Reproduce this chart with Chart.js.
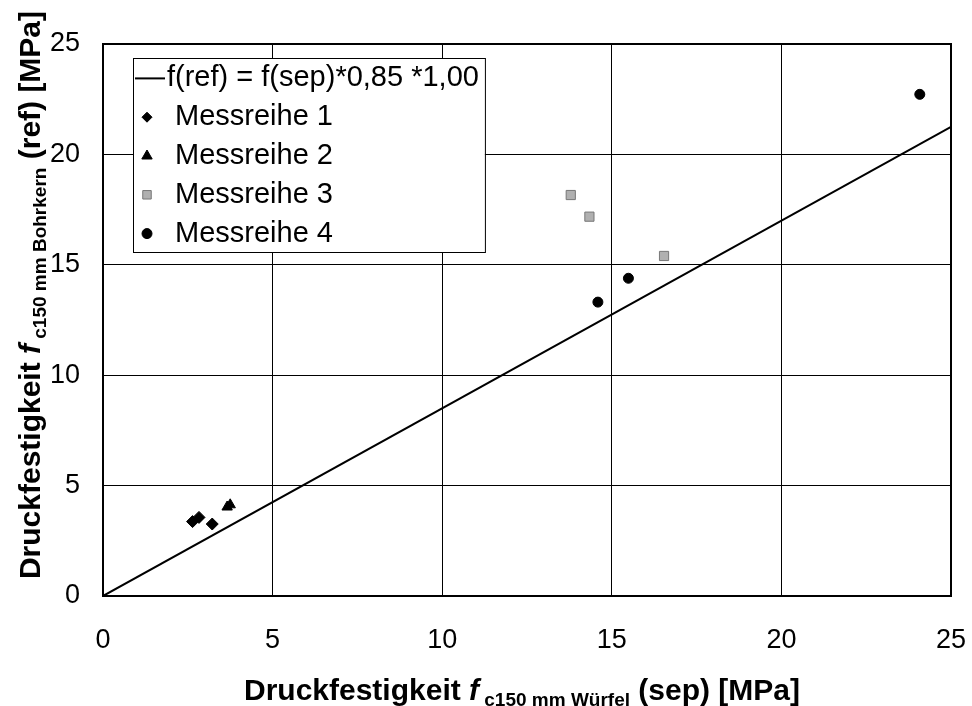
<!DOCTYPE html>
<html lang="de">
<head>
<meta charset="UTF-8">
<title>Druckfestigkeit Würfel / Bohrkern</title>
<script src="https://cdn.jsdelivr.net/npm/chart.js"></script>
<style>
    body { margin: 0; padding: 0; background: #fff; }
    #wrap { width: 972px; height: 706px; }
</style>
</head>
<body>
<div id="wrap"><canvas id="chart" width="972" height="706"></canvas></div>
<script>
    // Messwerte (sep = Würfel, ref = Bohrkern), MPa
    const reihe1X = [2.64, 2.83, 3.22];
    const reihe1Y = [3.37, 3.56, 3.26];
    const reihe2X = [3.66, 3.75];
    const reihe2Y = [4.03, 4.13];
    const reihe3X = [13.79, 14.34, 16.54];
    const reihe3Y = [18.16, 17.18, 15.40];
    const reihe4X = [14.59, 15.49, 24.08];
    const reihe4Y = [13.31, 14.39, 22.72];

    // Umrechnungsgerade f(ref) = f(sep) * 0,85 * 1,00
    const faktor1 = 0.85;
    const faktor2 = 1.00;
    const geradeX = [0, 25];

    const ticksX = [0, 5, 10, 15, 20, 25];
    const ticksY = [0, 5, 10, 15, 20, 25];

    const FONT = 'Arial, "Liberation Sans", sans-serif';

    function pts(xs, ys) {
        return xs.map((x, i) => ({ x: x, y: ys[i] }));
    }

    // Achsentitel mit tiefgestelltem Index
    function drawRich(ctx, parts, cx, cy) {
        let total = 0;
        parts.forEach(p => { ctx.font = p.font; p.w = ctx.measureText(p.t).width; total += p.w; });
        let x = cx - total / 2;
        ctx.textBaseline = 'alphabetic';
        ctx.textAlign = 'left';
        parts.forEach(p => {
            ctx.font = p.font;
            ctx.fillText(p.t, x, cy + (p.dy || 0));
            x += p.w;
        });
    }

    const titlePlugin = {
        id: 'titles',
        afterDraw(chart) {
            const ctx = chart.ctx;
            const a = chart.chartArea;
            ctx.save();
            ctx.fillStyle = '#000';
            drawRich(ctx, [
                { t: 'Druckfestigkeit ', font: 'bold 30px ' + FONT },
                { t: 'f', font: 'italic bold 30px ' + FONT },
                { t: ' c150 mm Würfel', font: 'bold 19px ' + FONT, dy: 6 },
                { t: ' (sep) [MPa]', font: 'bold 30px ' + FONT }
            ], (a.left + a.right) / 2 - 5, 700);
            ctx.translate(40, 295);
            ctx.rotate(-Math.PI / 2);
            drawRich(ctx, [
                { t: 'Druckfestigkeit ', font: 'bold 30px ' + FONT },
                { t: 'f', font: 'italic bold 30px ' + FONT },
                { t: ' c150 mm Bohrkern', font: 'bold 19px ' + FONT, dy: 6 },
                { t: ' (ref) [MPa]', font: 'bold 30px ' + FONT }
            ], 0, 0);
            ctx.restore();
        }
    };

    // Rahmen um die Zeichenfläche
    const framePlugin = {
        id: 'frame',
        beforeDatasetsDraw(chart) {
            const ctx = chart.ctx;
            const a = chart.chartArea;
            ctx.save();
            ctx.strokeStyle = '#000';
            ctx.lineWidth = 2;
            ctx.strokeRect(a.left, a.top, a.right - a.left, a.bottom - a.top);
            ctx.restore();
        }
    };

    // Legende als Kasten innerhalb der Zeichenfläche
    const legendPlugin = {
        id: 'boxLegend',
        afterDatasetsDraw(chart) {
            const ctx = chart.ctx;
            const a = chart.chartArea;
            const left = a.left + 30, top = a.top + 14, rowH = 38.8;
            const ds = chart.data.datasets;
            ctx.save();
            ctx.font = '29px ' + FONT;
            let maxW = 0;
            ds.forEach((d, i) => {
                const tx = i === 0 ? 34 : 42;
                maxW = Math.max(maxW, tx + ctx.measureText(d.label).width);
            });
            const boxW = maxW + 6, boxH = rowH * ds.length;
            ctx.fillStyle = '#fff';
            ctx.fillRect(left, top, boxW, boxH);
            ctx.strokeStyle = '#000';
            ctx.lineWidth = 1;
            ctx.strokeRect(left + 0.5, top + 0.5, boxW, boxH);
            ds.forEach((d, i) => {
                const cy = top + rowH * (i + 0.5) + 1;
                if (i === 0) {
                    ctx.strokeStyle = '#000';
                    ctx.lineWidth = 2;
                    ctx.beginPath();
                    ctx.moveTo(left + 2, cy);
                    ctx.lineTo(left + 32, cy);
                    ctx.stroke();
                } else {
                    ctx.fillStyle = d.backgroundColor;
                    ctx.strokeStyle = d.borderColor;
                    ctx.lineWidth = 1;
                    Chart.helpers.drawPoint(ctx, {
                        pointStyle: d.pointStyle,
                        radius: d.legendRadius,
                        borderWidth: 1
                    }, left + 14, cy);
                }
                ctx.fillStyle = '#000';
                ctx.textBaseline = 'middle';
                ctx.textAlign = 'left';
                ctx.fillText(d.label, left + (i === 0 ? 34 : 42), cy);
            });
            ctx.restore();
        }
    };

    // Achsen ohne Zusatzabstand für überstehende Beschriftungen
    function noPad(s) {
        s.paddingLeft = 0;
        s.paddingRight = 0;
        s.paddingTop = 0;
        s.paddingBottom = 0;
    }

    const ctx = document.getElementById('chart').getContext('2d');
    const chart = new Chart(ctx, {
        type: 'scatter',
        data: {
            datasets: [
                {
                    type: 'line',
                    label: 'f(ref) = f(sep)*0,85 *1,00',
                    data: geradeX.map(x => ({ x: x, y: x * faktor1 * faktor2 })),
                    borderColor: '#000',
                    borderWidth: 2,
                    pointRadius: 0,
                    fill: false,
                    order: 5
                },
                {
                    label: 'Messreihe 1',
                    data: pts(reihe1X, reihe1Y),
                    pointStyle: 'rectRot',
                    pointRadius: 6,
                    legendRadius: 5,
                    backgroundColor: '#000',
                    borderColor: '#000',
                    borderWidth: 1
                },
                {
                    label: 'Messreihe 2',
                    data: pts(reihe2X, reihe2Y),
                    pointStyle: 'triangle',
                    pointRadius: 6,
                    legendRadius: 6,
                    backgroundColor: '#000',
                    borderColor: '#000',
                    borderWidth: 1
                },
                {
                    label: 'Messreihe 3',
                    data: pts(reihe3X, reihe3Y),
                    pointStyle: 'rect',
                    pointRadius: 6.5,
                    legendRadius: 6,
                    backgroundColor: '#b0b0b0',
                    borderColor: '#777',
                    borderWidth: 1
                },
                {
                    label: 'Messreihe 4',
                    data: pts(reihe4X, reihe4Y),
                    pointStyle: 'circle',
                    pointRadius: 5,
                    legendRadius: 5,
                    backgroundColor: '#000',
                    borderColor: '#000',
                    borderWidth: 1
                }
            ]
        },
        options: {
            responsive: false,
            animation: false,
            devicePixelRatio: 1,
            layout: { padding: { left: 0, right: 21, top: 44, bottom: 0 } },
            plugins: {
                legend: { display: false },
                tooltip: { enabled: false }
            },
            scales: {
                x: {
                    type: 'linear',
                    min: 0,
                    max: 25,
                    afterBuildTicks: s => { s.ticks = ticksX.map(v => ({ value: v })); },
                    afterFit: s => { s.height = 110; noPad(s); },
                    grid: { color: '#000', lineWidth: 1, drawTicks: false },
                    border: { display: false },
                    ticks: {
                        padding: 28,
                        color: '#000',
                        font: { family: FONT, size: 27 }
                    }
                },
                y: {
                    type: 'linear',
                    min: 0,
                    max: 25,
                    afterBuildTicks: s => { s.ticks = ticksY.map(v => ({ value: v })); },
                    afterFit: s => { s.width = 103; noPad(s); },
                    grid: { color: '#000', lineWidth: 1, drawTicks: false },
                    border: { display: false },
                    ticks: {
                        padding: 23,
                        color: '#000',
                        font: { family: FONT, size: 27 }
                    }
                }
            }
        },
        plugins: [framePlugin, legendPlugin, titlePlugin]
    });
</script>
</body>
</html>
